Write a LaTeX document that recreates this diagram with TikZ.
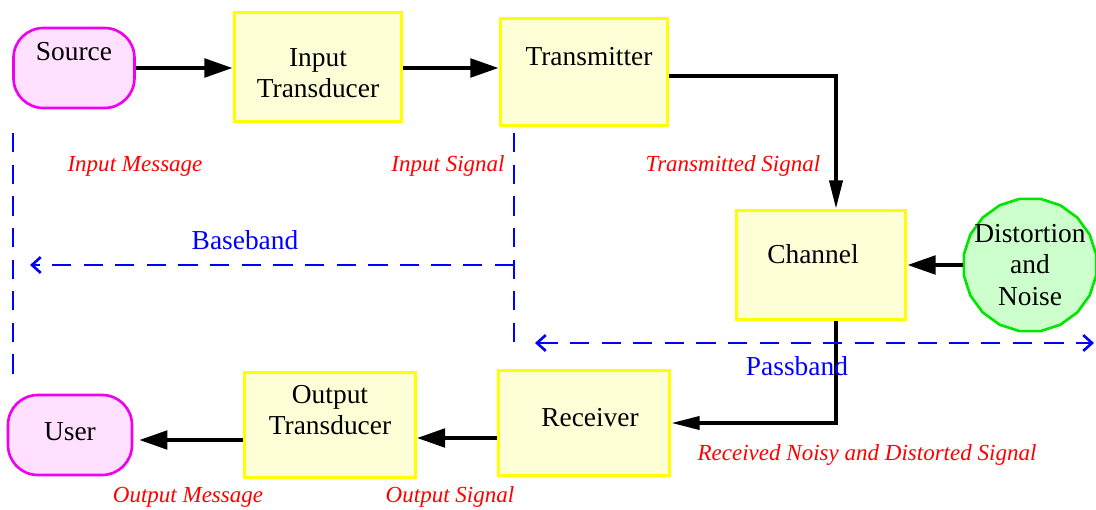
\documentclass[tikz,border=0pt]{standalone}
\usepackage{fontspec}
\setmainfont{Liberation Serif}
\usepackage{xcolor}
\usetikzlibrary{
	calc,
	arrows.meta,
	shapes,
	shapes.geometric,
	positioning
	}
\definecolor{jaune-bord}{RGB}{255,255,0}
\definecolor{jaune-fond}{RGB}{255,255,215}
\definecolor{rose-bord}{RGB}{240,0,240}
\definecolor{rose-fond}{RGB}{255,225,255}
\definecolor{vert-bord}{RGB}{0,230,0}
\definecolor{vert-fond}{RGB}{205,255,205}
\tikzstyle{bloc-std}=[draw=jaune-bord,fill=jaune-fond,line width=1.7pt,inner sep=0pt]
\tikzstyle{bout-std}=[draw=rose-bord,fill=rose-fond,line width=1.5pt,rounded corners=17pt,inner sep=0pt,minimum height=1.6cm]
\tikzstyle{bruit-std}=[draw=vert-bord,fill=vert-fond,line width=1.5pt,regular polygon,regular polygon sides=20,minimum size=2.68cm,inner sep=0pt]
\tikzstyle{texte-std}=[font=\fontsize{15.6}{17.5}\selectfont,align=center,inner sep=0pt]
\tikzstyle{fleche-std}=[line width=2.2pt,-{Triangle[length=16pt,width=10.5pt]}]
\tikzstyle{coude-std}=[line width=1.9pt,-{Triangle[length=16pt,width=7.5pt]}]
\tikzstyle{bande-std}=[blue,line width=1.5pt,dash pattern=on 11pt off 7pt]
\tikzstyle{etiq-rouge}=[red,font=\fontsize{13.1}{15}\selectfont\itshape,inner sep=0pt]
\tikzstyle{etiq-bleue}=[blue,font=\fontsize{15.6}{17}\selectfont,inner sep=0pt]

\begin{document}
\begin{tikzpicture}[x=0.02cm,y=-0.02cm]
\useasboundingbox (0,0) rectangle (1096,510);

% blocs
\node[bout-std,minimum width=2.42cm] (source) at (74,68) {};
\node[bloc-std,minimum width=3.36cm,minimum height=2.2cm] (transin) at (318,67) {};
\node[bloc-std,minimum width=3.36cm,minimum height=2.16cm] (emet) at (584,72) {};
\node[bloc-std,minimum width=3.4cm,minimum height=2.2cm] (canal) at (821,265) {};
\node[bruit-std] (bruit) at (1030,265) {};
\node[bloc-std,minimum width=3.44cm,minimum height=2.12cm] (recep) at (584,423) {};
\node[bloc-std,minimum width=3.42cm,minimum height=2.12cm] (transout) at (330,425) {};
\node[bout-std,minimum width=2.48cm] (user) at (70,435) {};

% textes des blocs
\node[texte-std] (t-source) at ($(source)+(0,-16)$) {Source};
\node[texte-std] (t-transin) at ($(transin)+(0,6)$) {Input\\Transducer};
\node[texte-std] (t-emet) at ($(emet)+(5,-15)$) {Transmitter};
\node[texte-std] (t-canal) at ($(canal)+(-8,-11)$) {Channel};
\node[texte-std,font=\fontsize{15.6}{18}\selectfont] (t-bruit) at (bruit) {Distortion\\and\\Noise};
\node[texte-std] (t-recep) at ($(recep)+(6,-5)$) {Receiver};
\node[texte-std] (t-transout) at ($(transout)+(0,-15)$) {Output\\Transducer};
\node[texte-std] (t-user) at ($(user)+(0,-3)$) {User};

% fleches
\draw[fleche-std] (source.east) -- (source.east -| transin.west);
\draw[fleche-std] (transin.east |- source.east) -- (source.east -| emet.west);
\draw[coude-std] ($(emet.east)+(0,4)$) -| ($(canal.north)+(15,0)$);
\draw[fleche-std] (bruit) -- (canal);
\draw[coude-std] ($(canal.south)+(15,0)$) |- (recep.east);
\draw[fleche-std] ($(recep.west)+(0,15)$) coordinate (r1) -- (r1 -| transout.east);
\draw[fleche-std] ($(transout.west)+(0,15)$) coordinate (o1) -- ($(o1 -| user.east)+(6,0)$);

% bandes
\coordinate (bb-g) at (13,133);
\coordinate (bb-d) at (514,133);
\draw[bande-std] (bb-g) -- ++(0,242);
\draw[bande-std] (bb-d) -- ++(0,217);
\draw[bande-std,-{Straight Barb[length=5pt,width=9pt]}] (514,265) coordinate (bb-c) -- (30,265);
\draw[bande-std,{Straight Barb[length=5pt,width=9pt]}-{Straight Barb[length=5pt,width=9pt]}] (535,343) coordinate (pb-g) -- (1094,343) coordinate (pb-d);
\node[etiq-bleue] (l-base) at (245,240) {Baseband};
\node[etiq-bleue] (l-pass) at (797,366) {Passband};

% etiquettes
\node[etiq-rouge] (l-msgin) at (135,166) {Input Message};
\node[etiq-rouge] (l-sigin) at (448,166) {Input Signal};
\node[etiq-rouge] (l-sigtx) at (733,166) {Transmitted Signal};
\node[etiq-rouge] (l-sigrx) at (867,455) {Received Noisy and Distorted Signal};
\node[etiq-rouge] (l-msgout) at (188,497) {Output Message};
\node[etiq-rouge] (l-sigout) at (450,497) {Output Signal};
\end{tikzpicture}
\end{document}
